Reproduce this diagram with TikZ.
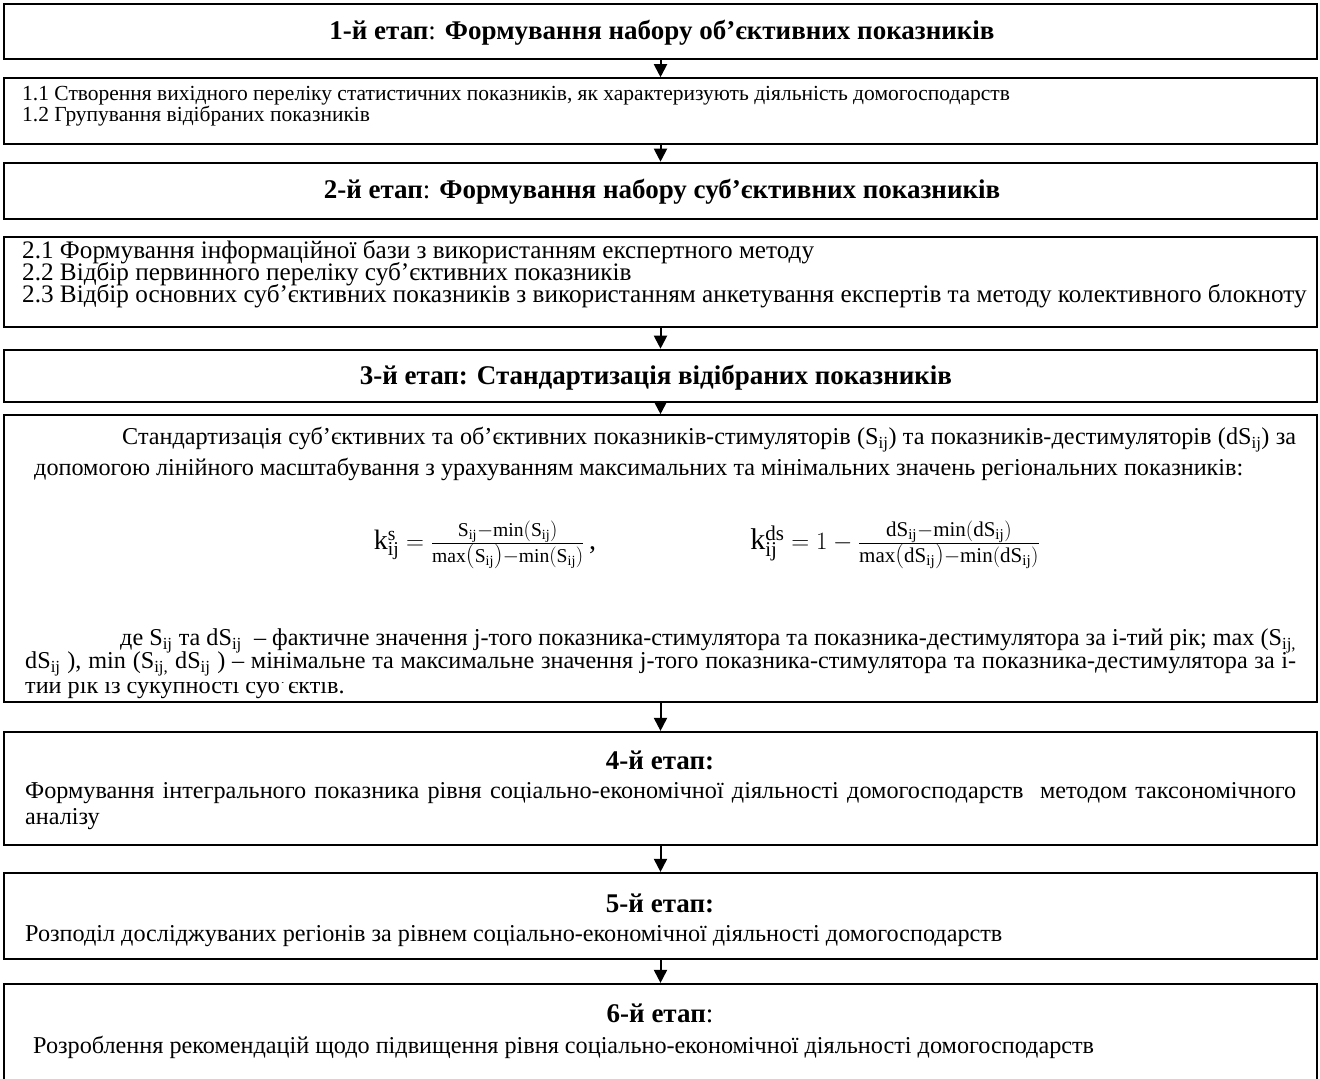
\documentclass[tikz,border=0pt]{standalone}
\usepackage{fontspec}
\setmainfont{Liberation Serif}
\usetikzlibrary{arrows.meta}
\begin{document}
\begin{tikzpicture}[x=1pt,y=-1pt,
  hdrbox/.style={draw,line width=2.6pt,minimum width=1313pt,inner sep=0pt},
  stagebox/.style={draw,line width=2.2pt,minimum width=1313pt,inner sep=0pt},
  thinbox/.style={draw,line width=1.6pt,minimum width=1313pt,inner sep=0pt},
  hdr/.style={font=\fontsize{27}{29}\selectfont\bfseries,inner sep=0pt},
  body/.style={font=\fontsize{24.2}{26}\selectfont,inner sep=0pt,anchor=west},
  mid/.style={font=\fontsize{25.2}{27}\selectfont,inner sep=0pt,anchor=west},
  small/.style={font=\fontsize{21.5}{23}\selectfont,inner sep=0pt,anchor=west},
  frm/.style={font=\fontsize{28}{30}\selectfont,inner sep=0pt},
  frmb/.style={font=\fontsize{30}{32}\selectfont,inner sep=0pt},
  arr/.style={line width=2pt,-{Triangle[length=13pt,width=13pt]}}]
\useasboundingbox (0,0) rectangle (1320,1079);
\clip (0,0) rectangle (1320,1079);

% boxes
\node[hdrbox,minimum height=55pt] (s1) at (660.5,31.5) {};
\node[thinbox,minimum height=66pt] (s11) at (660.5,111) {};
\node[hdrbox,minimum height=56pt] (s2) at (660.5,191) {};
\node[thinbox,minimum height=90pt] (s21) at (660.5,282) {};
\node[hdrbox,minimum height=52pt] (s3) at (660.5,376) {};
\node[thinbox,minimum height=287pt] (s31) at (660.5,558.5) {};
\node[stagebox,minimum height=113pt] (s4) at (660.5,788.5) {};
\node[stagebox,minimum height=86pt] (s5) at (660.5,916) {};
\node[stagebox,minimum height=120pt] (s6) at (660.5,1044) {};

% arrows
\draw[arr] (s1.south) -- (s11.north);
\draw[arr] (s11.south) -- (s2.north);
\draw[arr] (s21.south) -- (s3.north);
\draw[arr] (s3.south) -- (s31.north);
\draw[arr] (s31.south) -- (s4.north);
\draw[arr] (s4.south) -- (s5.north);
\draw[arr] (s5.south) -- (s6.north);

% stage 1
\node[hdr] (t1) at (662,33) {1-й етап\textmd{:} Формування набору об’єктивних показників};
\node[small] (l11) at (22,96) {1.1 Створення вихідного переліку статистичних показників, як характеризують діяльність домогосподарств};
\node[small] (l12) at (22,116) {1.2 Групування відібраних показників};

% stage 2
\node[hdr] (t2) at (662,192) {2-й етап\textmd{:} Формування набору суб’єктивних показників};
\node[mid] (l21) at (22,252) {2.1 Формування інформаційної бази з використанням експертного методу};
\node[mid] (l22) at (22,274) {2.2 Відбір первинного переліку суб’єктивних показників};
\node[mid] (l23) at (22,296) {2.3 Відбір основних суб’єктивних показників з використанням анкетування експертів та методу колективного блокноту};

% stage 3
\node[hdr] (t3) at (656,378) {3-й етап: Стандартизація відібраних показників};
\node[body] (p1) at (122,440) {\makebox[1174pt][s]{Стандартизація суб’єктивних та об’єктивних показників-стимуляторів (S\textsubscript{ij}) та показників-дестимуляторів (dS\textsubscript{ij}) за}};
\node[body] (p2) at (34,469) {допомогою лінійного масштабування з урахуванням максимальних та мінімальних значень регіональних показників:};
\node[frm] (f1) at (485,545) {$\mathrm{k}_{\mathrm{ij}}^{\mathrm{s}} = \frac{\mathrm{S}_{\mathrm{ij}}-\mathrm{min}(\mathrm{S}_{\mathrm{ij}})}{\mathrm{max}\bigl(\mathrm{S}_{\mathrm{ij}}\bigr)-\mathrm{min}(\mathrm{S}_{\mathrm{ij}})}$\,,};
\node[frmb] (f2) at (895,545) {$\mathrm{k}_{\mathrm{ij}}^{\mathrm{ds}} = 1 - \frac{\mathrm{dS}_{\mathrm{ij}}-\mathrm{min}(\mathrm{dS}_{\mathrm{ij}})}{\mathrm{max}\bigl(\mathrm{dS}_{\mathrm{ij}}\bigr)-\mathrm{min}(\mathrm{dS}_{\mathrm{ij}})}$};
\node[body] (p3) at (120,641) {\makebox[1176pt][s]{де S\textsubscript{ij} та dS\textsubscript{ij}\ \ – фактичне значення j-того показника-стимулятора та показника-дестимулятора за і-тий рік; max (S\textsubscript{ij,}}};
\node[body] (p4) at (25,664) {\makebox[1271pt][s]{dS\textsubscript{ij} ), min (S\textsubscript{ij,} dS\textsubscript{ij} ) – мінімальне та максимальне значення j-того показника-стимулятора та показника-дестимулятора за і-}};
\begin{scope}
\clip (20,682) rectangle (1300,700);
\node[body] (p5) at (25,687) {тий рік із сукупності суб’єктів.};
\end{scope}

% stage 4
\node[hdr] (t4) at (660,760) {4-й етап:};
\node[body] (l41) at (25,793) {\makebox[1271pt][s]{Формування інтегрального показника рівня соціально-економічної діяльності домогосподарств\ \ методом таксономічного}};
\node[body] (l42) at (25,819) {аналізу};

% stage 5
\node[hdr] (t5) at (660,903) {5-й етап:};
\node[body] (l51) at (25,936) {Розподіл досліджуваних регіонів за рівнем соціально-економічної діяльності домогосподарств};

% stage 6
\node[hdr] (t6) at (660,1013) {6-й етап\textmd{:}};
\node[body] (l61) at (33,1047) {Розроблення рекомендацій щодо підвищення рівня соціально-економічної діяльності домогосподарств};
\end{tikzpicture}
\end{document}
